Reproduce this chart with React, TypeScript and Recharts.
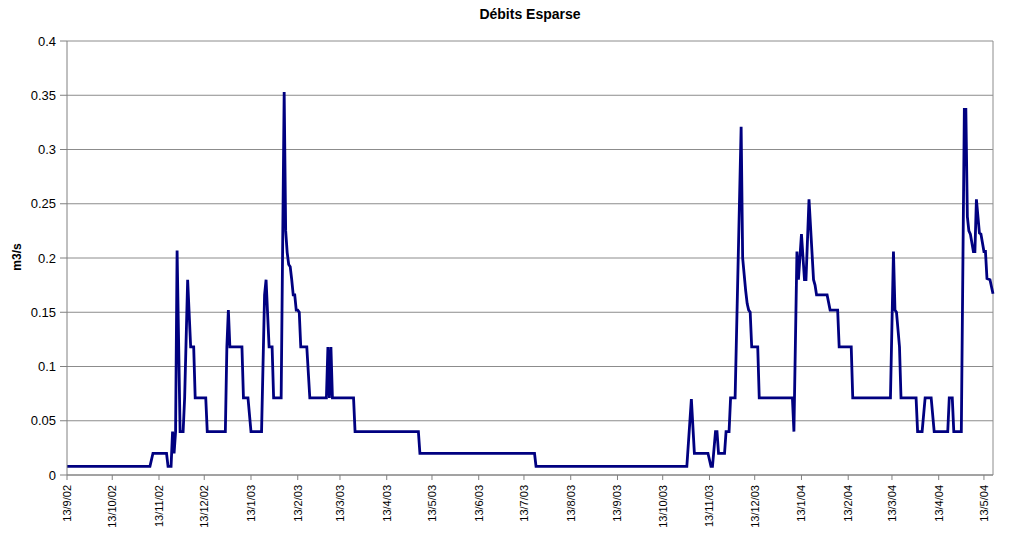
import React from 'react';
import { LineChart, Line, XAxis, YAxis, CartesianGrid, ReferenceLine } from 'recharts';

const START = '2002-09-13';
const END = '2004-05-19';

const dates: string[] = [
  '2002-09-13', '2002-11-07', '2002-11-09', '2002-11-18', '2002-11-19', '2002-11-21', '2002-11-22', '2002-11-23',
  '2002-11-24', '2002-11-25', '2002-11-27', '2002-11-29', '2002-11-30', '2002-12-02', '2002-12-04', '2002-12-06',
  '2002-12-07', '2002-12-14', '2002-12-15', '2002-12-27', '2002-12-28', '2002-12-29', '2002-12-30', '2003-01-07',
  '2003-01-08', '2003-01-11', '2003-01-13', '2003-01-20', '2003-01-22', '2003-01-23', '2003-01-25', '2003-01-27',
  '2003-01-28', '2003-02-02', '2003-02-04', '2003-02-05', '2003-02-06', '2003-02-07', '2003-02-08', '2003-02-09',
  '2003-02-10', '2003-02-11', '2003-02-12', '2003-02-13', '2003-02-14', '2003-02-15', '2003-02-19', '2003-02-21',
  '2003-03-04', '2003-03-05', '2003-03-06', '2003-03-07', '2003-03-08', '2003-03-22', '2003-03-23', '2003-05-04',
  '2003-05-05', '2003-07-20', '2003-07-21', '2003-10-29', '2003-11-01', '2003-11-03', '2003-11-12', '2003-11-14',
  '2003-11-15', '2003-11-17', '2003-11-18', '2003-11-19', '2003-11-23', '2003-11-24', '2003-11-26', '2003-11-27',
  '2003-11-30', '2003-12-04', '2003-12-05', '2003-12-06', '2003-12-07', '2003-12-08', '2003-12-09', '2003-12-10',
  '2003-12-11', '2003-12-15', '2003-12-16', '2004-01-07', '2004-01-08', '2004-01-10', '2004-01-11', '2004-01-13',
  '2004-01-15', '2004-01-16', '2004-01-18', '2004-01-21', '2004-01-22', '2004-01-23', '2004-01-30', '2004-02-01',
  '2004-02-06', '2004-02-07', '2004-02-15', '2004-02-16', '2004-03-12', '2004-03-14', '2004-03-15', '2004-03-16',
  '2004-03-18', '2004-03-19', '2004-03-29', '2004-03-30', '2004-04-02', '2004-04-04', '2004-04-08', '2004-04-10',
  '2004-04-19', '2004-04-20', '2004-04-22', '2004-04-23', '2004-04-28', '2004-04-30', '2004-05-01', '2004-05-02',
  '2004-05-03', '2004-05-04', '2004-05-06', '2004-05-07', '2004-05-08', '2004-05-10', '2004-05-11', '2004-05-13',
  '2004-05-14', '2004-05-15', '2004-05-17', '2004-05-19',
];

const flows: number[] = [
  0.008, 0.008, 0.02, 0.02, 0.008, 0.008, 0.04, 0.02,
  0.04, 0.207, 0.04, 0.04, 0.071, 0.18, 0.118, 0.118,
  0.071, 0.071, 0.04, 0.04, 0.118, 0.152, 0.118, 0.118,
  0.071, 0.071, 0.04, 0.04, 0.166, 0.18, 0.118, 0.118,
  0.071, 0.071, 0.353, 0.225, 0.205, 0.194, 0.192, 0.18,
  0.166, 0.166, 0.152, 0.152, 0.15, 0.118, 0.118, 0.071,
  0.071, 0.118, 0.071, 0.118, 0.071, 0.071, 0.04, 0.04,
  0.02, 0.02, 0.008, 0.008, 0.07, 0.02, 0.02, 0.008,
  0.008, 0.04, 0.04, 0.02, 0.02, 0.04, 0.04, 0.071,
  0.071, 0.321, 0.2, 0.185, 0.17, 0.158, 0.152, 0.15,
  0.118, 0.118, 0.071, 0.071, 0.04, 0.206, 0.18, 0.222,
  0.18, 0.18, 0.254, 0.18, 0.175, 0.166, 0.166, 0.152,
  0.152, 0.118, 0.118, 0.071, 0.071, 0.206, 0.152, 0.15,
  0.118, 0.071, 0.071, 0.04, 0.04, 0.071, 0.071, 0.04,
  0.04, 0.071, 0.071, 0.04, 0.04, 0.337, 0.337, 0.238,
  0.225, 0.222, 0.206, 0.206, 0.254, 0.223, 0.222, 0.206,
  0.206, 0.181, 0.18, 0.167,
];

const tickDates: string[] = [
  '2002-09-13', '2002-10-13', '2002-11-13', '2002-12-13', '2003-01-13', '2003-02-13', '2003-03-13',
  '2003-04-13', '2003-05-13', '2003-06-13', '2003-07-13', '2003-08-13', '2003-09-13', '2003-10-13',
  '2003-11-13', '2003-12-13', '2004-01-13', '2004-02-13', '2004-03-13', '2004-04-13', '2004-05-13',
];

const tickLabels: string[] = [
  '13/9/02', '13/10/02', '13/11/02', '13/12/02', '13/1/03', '13/2/03', '13/3/03',
  '13/4/03', '13/5/03', '13/6/03', '13/7/03', '13/8/03', '13/9/03', '13/10/03',
  '13/11/03', '13/12/03', '13/1/04', '13/2/04', '13/3/04', '13/4/04', '13/5/04',
];

const yTicks: number[] = [0, 0.05, 0.1, 0.15, 0.2, 0.25, 0.3, 0.35, 0.4];

const DAY = 86400000;
const dayIndex = (s: string) => Math.round((Date.parse(s) - Date.parse(START)) / DAY);

const data = dates.map((d, i) => ({ t: dayIndex(d), q: flows[i] }));
const tickDays = tickDates.map(dayIndex);
const labelByDay: Record<number, string> = {};
tickDays.forEach((d, i) => { labelByDay[d] = tickLabels[i]; });
const endDay = dayIndex(END);

const FONT = '"Liberation Sans", Arial, sans-serif';

const XTick = (props: any) => {
  const { x, y, payload } = props;
  return (
    <g transform={`translate(${x},${y + 3})`}>
      <text
        transform="rotate(-90)"
        textAnchor="end"
        dy="0.35em"
        fontSize={11}
        fontFamily={FONT}
        fill="#000"
      >
        {labelByDay[payload.value]}
      </text>
    </g>
  );
};

export default function App() {
  return (
    <div style={{ position: 'absolute', left: 0, top: 0, width: 1018, height: 538, background: '#fff', fontFamily: FONT }}>
      <div
        style={{
          position: 'absolute', left: 0, top: 6, width: 1060, textAlign: 'center',
          fontWeight: 'bold', fontSize: 14, color: '#000',
        }}
      >
        Débits Esparse
      </div>
      <div
        style={{
          position: 'absolute', left: 17, top: 257, fontWeight: 'bold', fontSize: 12, color: '#000',
          transform: 'translate(-50%, -50%) rotate(-90deg)', whiteSpace: 'nowrap',
        }}
      >
        m3/s
      </div>
      <LineChart width={1018} height={538} data={data} margin={{ top: 41, right: 25, bottom: 0, left: 0 }}>
        <CartesianGrid horizontal vertical={false} stroke="#8c8c8c" strokeWidth={1} />
        <XAxis
          type="number"
          dataKey="t"
          domain={[0, endDay]}
          ticks={tickDays}
          interval={0}
          height={63}
          tickSize={5}
          tick={<XTick />}
          axisLine={{ stroke: '#808080' }}
          tickLine={{ stroke: '#808080' }}
          allowDecimals={false}
        />
        <YAxis
          type="number"
          domain={[0, 0.4]}
          ticks={yTicks}
          interval={0}
          width={67}
          tickSize={7}
          tickMargin={4}
          tick={{ fontSize: 13, fill: '#000', fontFamily: FONT }}
          axisLine={{ stroke: '#808080' }}
          tickLine={{ stroke: '#808080' }}
        />
        <ReferenceLine x={endDay} stroke="#8c8c8c" strokeWidth={1} />
        <Line
          type="linear"
          dataKey="q"
          stroke="#000080"
          strokeWidth={2.8}
          dot={false}
          isAnimationActive={false}
        />
      </LineChart>
    </div>
  );
}
